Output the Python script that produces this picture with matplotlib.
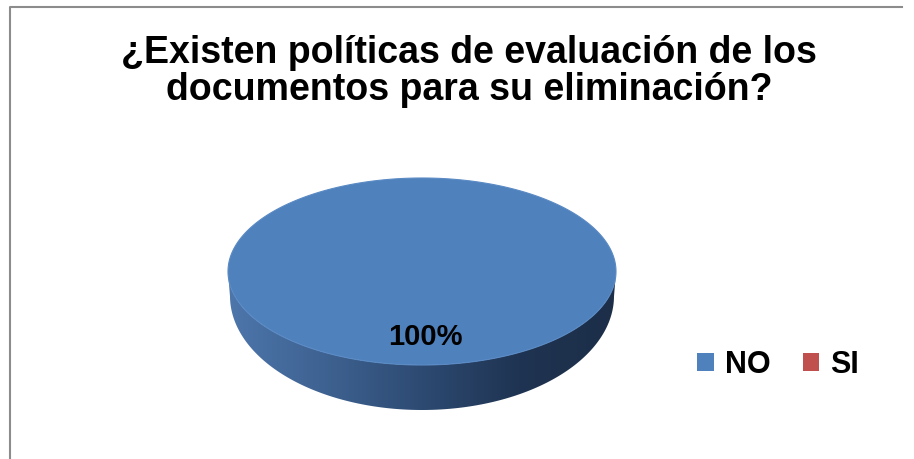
import numpy as np
import matplotlib.pyplot as plt
from matplotlib.patches import Polygon, Patch
from matplotlib.colors import LinearSegmentedColormap

categorias = ["NO", "SI"]
valores = [100, 0]
colores = ["#4f81bd", "#c0504d"]
titulo = "¿Existen políticas de evaluación de los\ndocumentos para su eliminación?"

plt.rcParams["font.family"] = ["Liberation Sans", "DejaVu Sans"]

fig = plt.figure(figsize=(9.14, 4.59), dpi=100)
ax = fig.add_axes([0, 0, 1, 1])
ax.set_xlim(0, 914)
ax.set_ylim(459, 0)
ax.axis("off")

# marco gris del grafico
ax.plot([9.5, 9.5, 902], [459, 6.5, 6.5], color="#8c8c8c", lw=1.5)

# geometria del pastel 3D (cara superior y base en perspectiva)
cx, cy, rx, ry = 422, 271.5, 194, 93.5
bx, by, brx, bry = 422, 296, 192, 114

total = sum(valores)
inicio = -90.0
for cat, val, col in zip(categorias, valores, colores):
    if val <= 0:
        continue
    ang = 360.0 * val / total
    t = np.radians(np.linspace(inicio, inicio + ang, 400))
    # lateral visible (mitad frontal)
    tf = t[np.sin(t) >= 0]
    if len(tf) > 1:
        arriba = np.column_stack([cx + rx * np.cos(tf), cy + ry * np.sin(tf)])
        abajo = np.column_stack([bx + brx * np.cos(tf), by + bry * np.sin(tf)])[::-1]
        lado = Polygon(np.vstack([arriba, abajo]), closed=True, fc="none", ec="none")
        ax.add_patch(lado)
        cmap = LinearSegmentedColormap.from_list(
            "lado", ["#4d76ab", "#3e6291", "#2d4a72", "#1f3452", "#1c2e48"])
        grad = np.linspace(0, 1, 256).reshape(1, -1)
        im = ax.imshow(grad, cmap=cmap, aspect="auto",
                       extent=[cx - rx, cx + rx, by + bry + 2, cy - 5], zorder=2)
        im.set_clip_path(lado)
    # cara superior
    pts = np.column_stack([cx + rx * np.cos(t), cy + ry * np.sin(t)])
    if ang < 360:
        pts = np.vstack([[cx, cy], pts])
    ax.add_patch(Polygon(pts, closed=True, fc=col, ec="#5a8ac4", lw=0.8, zorder=3))
    ax.text(425, 337, f"{val / total:.0%}", ha="center", va="center",
            fontsize=21, fontweight="bold", color="black", zorder=4)
    inicio += ang

# titulo en dos lineas
for linea, yb in zip(titulo.split("\n"), [63, 100]):
    ax.text(469, yb, linea, ha="center", va="baseline", fontsize=27,
            fontweight="bold")

handles = [Patch(fc=c, ec="none") for c in colores]
fig.legend(handles, categorias, ncol=2, loc="center left",
           bbox_to_anchor=(0.733, 0.205), frameon=False,
           prop={"weight": "bold", "size": 22},
           handlelength=0.55, handleheight=0.55, handletextpad=0.35,
           columnspacing=1.05)

fig.savefig("out.png", dpi=100)
